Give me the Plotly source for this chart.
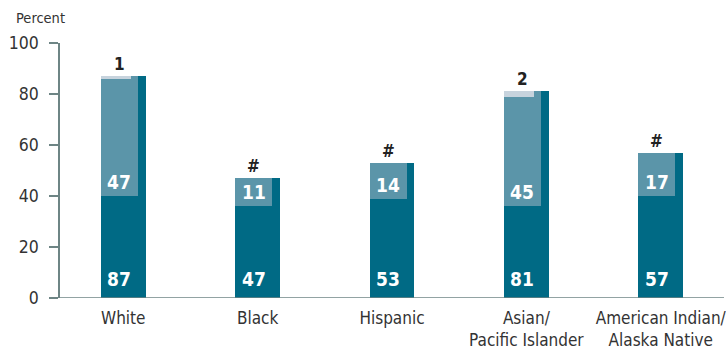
import plotly.graph_objects as go

# Percentage of students at each achievement level, by race/ethnicity
groups = ["White", "Black", "Hispanic", "Asian/<br>Pacific Islander", "American Indian/<br>Alaska Native"]
at_or_above_basic = [87, 47, 53, 81, 57]
at_or_above_proficient = [47, 11, 14, 45, 17]
at_advanced = [1, 0, 0, 2, 0]
advanced_labels = ["1", "#", "#", "2", "#"]

DARK = "#006a85"
MID = "#5b95a9"
LIGHT = "#c7d3dd"
AXIS = "#6e8585"
FONT = "DejaVu Sans Condensed, Roboto, sans-serif"

xs = list(range(len(groups)))
W_DARK, W_MID, W_LIGHT = 0.334, 0.275, 0.223
left = -W_DARK / 2

fig = go.Figure()
fig.add_bar(x=xs, y=at_or_above_basic, width=W_DARK, offset=left,
            marker=dict(color=DARK, line=dict(width=0)), hoverinfo="skip")
fig.add_bar(x=xs, y=at_or_above_proficient,
            base=[b - p for b, p in zip(at_or_above_basic, at_or_above_proficient)],
            width=W_MID, offset=left,
            marker=dict(color=MID, line=dict(width=0)), hoverinfo="skip")
fig.add_bar(x=xs, y=at_advanced,
            base=[b - a for b, a in zip(at_or_above_basic, at_advanced)],
            width=W_LIGHT, offset=left,
            marker=dict(color=LIGHT, line=dict(width=0)), hoverinfo="skip")


def font(size, color, weight="normal"):
    return dict(family=FONT, size=size, color=color, weight=weight)


annotations = []
for i, (b, p, lab) in enumerate(zip(at_or_above_basic, at_or_above_proficient, advanced_labels)):
    cx = i + left + W_MID / 2
    annotations.append(dict(x=cx, y=0, text=str(b), showarrow=False,
                            yanchor="middle", yshift=19, font=font(19, "white", "bold")))
    annotations.append(dict(x=cx, y=b - p, text=str(p), showarrow=False,
                            yanchor="middle", yshift=14, font=font(19, "white", "bold")))
    annotations.append(dict(x=cx, y=b, text=lab, showarrow=False,
                            yanchor="middle", yshift=12, font=font(17, "#222222", "bold")))

annotations.append(dict(x=0, xref="paper", xshift=-46, y=1, yref="paper", yshift=25,
                        text="Percent", showarrow=False, xanchor="left", yanchor="middle",
                        font=font(14.5, "#333333")))

fig.update_layout(
    width=726, height=351,
    margin=dict(l=60, r=0, t=43, b=53),
    paper_bgcolor="white", plot_bgcolor="white",
    barmode="overlay", bargap=0,
    showlegend=False,
    annotations=annotations,
    font=font(17, "#333333"),
    shapes=[dict(type="line", xref="paper", yref="y", x0=-9 / 666, x1=1, y0=0, y1=0,
                 line=dict(color=AXIS, width=1.5))],
)
fig.update_xaxes(range=[-0.471, 4.471], tickvals=xs, ticktext=groups,
                 showgrid=False, zeroline=False, showline=False, ticks="",
                 tickfont=font(17, "#333333"), ticklabeloverflow="allow",
                 ticklabelstandoff=8)
fig.update_yaxes(range=[0, 100], tickvals=[0, 20, 40, 60, 80, 100],
                 showgrid=False, zeroline=False, showline=True, linecolor=AXIS, linewidth=1.5,
                 ticks="outside", ticklen=9, tickcolor=AXIS, tickwidth=1.5,
                 tickfont=font(17.5, "#333333"), ticklabelstandoff=7)

fig.write_html("out.html")
